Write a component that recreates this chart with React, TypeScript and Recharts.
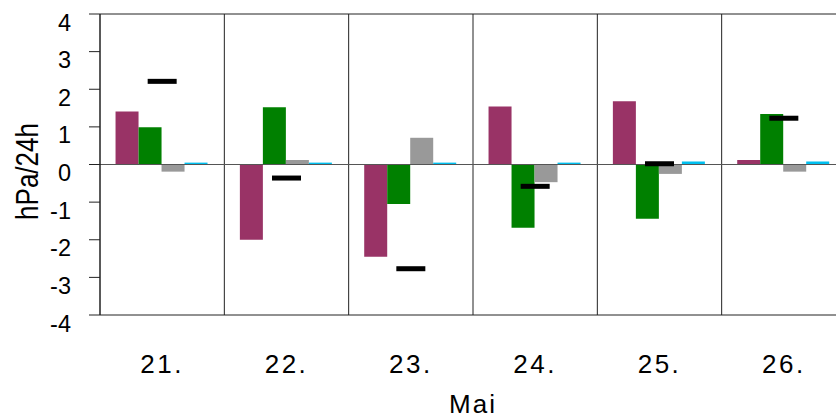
import React from 'react';
import { ComposedChart, Bar, Line, XAxis, YAxis, ReferenceLine } from 'recharts';

const days = ['21.', '22.', '23.', '24.', '25.', '26.'];
const seriesMaroon = [1.41, -2.0, -2.45, 1.54, 1.68, 0.12];
const seriesGreen = [0.99, 1.52, -1.05, -1.68, -1.44, 1.34];
const seriesGray = [-0.19, 0.12, 0.71, -0.47, -0.25, -0.19];
const seriesCyan = [0.05, 0.05, 0.05, 0.05, 0.08, 0.08];
const seriesMarker = [2.21, -0.36, -2.77, -0.58, 0.02, 1.23];
const yTicks = [-4, -3, -2, -1, 0, 1, 2, 3, 4];

const data = days.map((d, i) => ({
  day: d,
  a: seriesMaroon[i],
  b: seriesGreen[i],
  c: seriesGray[i],
  d: seriesCyan[i],
  m: seriesMarker[i],
}));

const FONT = '"Liberation Sans", Arial, sans-serif';
const LINE = '#222';

const YTick = (props: any) => {
  const { x, y, payload } = props;
  return (
    <text x={x} y={y} dy={16.5} textAnchor="end" fontSize={23.5} fontFamily={FONT} fill="#000">
      {payload.value}
    </text>
  );
};

const XTick = (props: any) => {
  const { x, y, payload } = props;
  return (
    <text x={x} y={y} dy={58} textAnchor="middle" fontSize={26} fontFamily={FONT} letterSpacing={2.5} fill="#000">
      {payload.value}
    </text>
  );
};

const Dash = (props: any) => {
  const { cx, cy, index } = props;
  if (cx == null || cy == null) return <g key={index} />;
  return <rect key={index} x={cx - 14.5} y={cy - 2.5} width={29} height={5} fill="#000" />;
};

export default function App() {
  return (
    <div style={{ position: 'absolute', left: 0, top: 0, width: 836, height: 419, overflow: 'hidden', background: '#fff' }}>
      <ComposedChart
        width={846}
        height={419}
        data={data}
        margin={{ top: 14, right: 0, bottom: 0, left: 0 }}
        barCategoryGap="12.5%"
        barGap={0}
      >
        <XAxis
          dataKey="day"
          height={104}
          axisLine={false}
          tickLine={false}
          tickSize={0}
          tickMargin={0}
          tick={<XTick />}
          interval={0}
          label={{
            value: 'Mai',
            position: 'insideBottom',
            offset: 6,
            fontSize: 26,
            fontFamily: FONT,
            fill: '#000',
            letterSpacing: 2,
          }}
        />
        <YAxis
          domain={[-4, 4]}
          ticks={yTicks}
          width={100}
          tickSize={11}
          tickMargin={18}
          axisLine={{ stroke: LINE, strokeWidth: 1.5 }}
          tickLine={{ stroke: LINE }}
          tick={<YTick />}
          interval={0}
          label={{
            content: () => (
              <text
                transform="translate(37.5,171.5) rotate(-90) scale(1,1.2)"
                textAnchor="middle"
                fontSize={26}
                fontFamily={FONT}
                fill="#000"
              >
                hPa/24h
              </text>
            ),
          }}
        />
        <ReferenceLine y={4} stroke={LINE} />
        <ReferenceLine y={-4} stroke={LINE} />
        {days.slice(1).map((d) => (
          <ReferenceLine key={d} x={d} position="start" stroke={LINE} />
        ))}
        <Bar dataKey="a" fill="#993366" isAnimationActive={false} />
        <Bar dataKey="b" fill="#008000" isAnimationActive={false} />
        <Bar dataKey="c" fill="#999999" isAnimationActive={false} />
        <Bar dataKey="d" fill="#00C0F0" isAnimationActive={false} />
        <ReferenceLine y={0} stroke="#555" />
        <Line dataKey="m" stroke="none" dot={<Dash />} activeDot={false} isAnimationActive={false} />
      </ComposedChart>
    </div>
  );
}
